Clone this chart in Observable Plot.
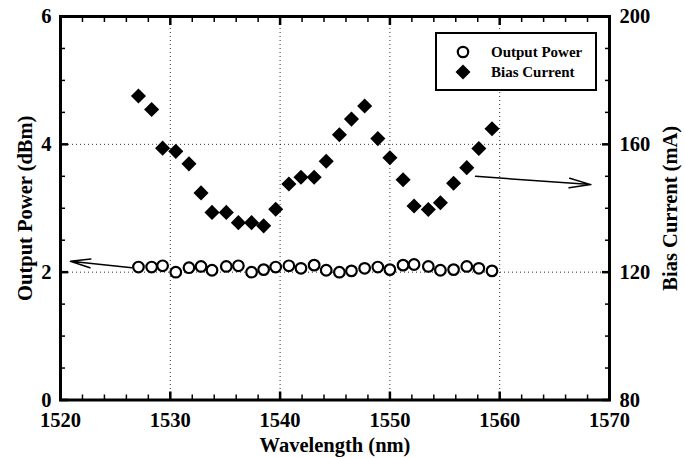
<!DOCTYPE html>
<html>
<head>
<meta charset="utf-8">
<script src="https://cdn.jsdelivr.net/npm/d3@7"></script>
<script src="https://cdn.jsdelivr.net/npm/@observablehq/plot@0.6"></script>
<style>
  html, body { margin: 0; padding: 0; background: #fff; }
  #wrap { position: relative; width: 685px; height: 458px; font-family: "Liberation Serif", "Times New Roman", serif; }
  #wrap svg, #wrap svg text { font-family: "Liberation Serif", "Times New Roman", serif !important; }
  .legend { position: absolute; left: 435px; top: 32px; width: 158px; height: 55px; border: 2px solid #000; background: #fff; }
  .legend .sym { position: absolute; }
  .legend .lab { position: absolute; font-weight: bold; font-size: 15px; line-height: 16px; white-space: nowrap; }
</style>
</head>
<body>
<div id="wrap"></div>
<script>
// ---- data ----
const wavelength = [1527.1, 1528.3, 1529.3, 1530.5, 1531.7, 1532.8, 1533.8, 1535.1, 1536.2, 1537.4,
  1538.5, 1539.6, 1540.8, 1541.9, 1543.1, 1544.2, 1545.4, 1546.5, 1547.7, 1548.9,
  1550.0, 1551.2, 1552.2, 1553.5, 1554.6, 1555.8, 1557.0, 1558.1, 1559.3];
const outputPower = [2.08, 2.08, 2.10, 2.00, 2.07, 2.09, 2.03, 2.09, 2.10, 2.00,
  2.04, 2.08, 2.10, 2.06, 2.11, 2.03, 2.00, 2.02, 2.06, 2.08,
  2.04, 2.11, 2.12, 2.09, 2.03, 2.04, 2.09, 2.06, 2.02];
const biasCurrent = [175.1, 170.9, 158.8, 157.8, 153.9, 144.8, 138.7, 138.7, 135.5, 135.5,
  134.5, 139.7, 147.6, 149.7, 149.7, 154.7, 163.0, 167.9, 172.0, 161.8,
  155.8, 148.9, 140.7, 139.6, 141.7, 147.8, 152.7, 158.7, 164.9];

const xTicks = [1520, 1530, 1540, 1550, 1560, 1570];
const xGrid = [1530, 1540, 1550, 1560];
const yLeftTicks = [0, 2, 4, 6];
const yGrid = [2, 4];
const yRightTickLabels = [80, 120, 160, 200];
const biasDomain = [80, 200];
const powerDomain = [0, 6];

// annotation arrows (x in nm, y in dBm units)
const arrows = [
  {x1: 1526.5, y1: 2.07, x2: 1520.9, y2: 2.17},
  {x1: 1557.8, y1: 3.50, x2: 1568.3, y2: 3.37}
];

// map mA onto the left (dBm) axis
const toLeft = d3.scaleLinear().domain(biasDomain).range(powerDomain);

const power = wavelength.map((w, i) => ({w, v: outputPower[i]}));
const bias = wavelength.map((w, i) => ({w, v: toLeft(biasCurrent[i])}));

const xMinor = d3.range(1520, 1571, 2).filter(v => !xTicks.includes(v));
const yMinor = d3.range(0, 6.01, 0.5).filter(v => !yLeftTicks.includes(v));

const font = "Liberation Serif, Times New Roman, serif";

const chart = Plot.plot({
  width: 685,
  height: 458,
  marginLeft: 60,
  marginRight: 76,
  marginTop: 16,
  marginBottom: 58.5,
  style: {fontFamily: font, background: "#fff", color: "#000"},
  x: {domain: [1520, 1570]},
  y: {domain: powerDomain},
  marks: [
    Plot.gridX(xGrid, {stroke: "#000", strokeOpacity: 0.8, strokeDasharray: "1,3", strokeWidth: 1}),
    Plot.gridY(yGrid, {stroke: "#000", strokeOpacity: 0.8, strokeDasharray: "1,3", strokeWidth: 1}),
    // major / minor ticks (inward), all four sides
    Plot.axisX(xTicks, {anchor: "bottom", tickSize: -8, tickFormat: () => "", strokeWidth: 2.5, label: null}),
    Plot.axisX(xTicks, {anchor: "top", tickSize: -8, tickFormat: () => "", strokeWidth: 2.5, label: null}),
    Plot.axisX(xMinor, {anchor: "bottom", tickSize: -5, tickFormat: () => "", strokeWidth: 1.5, label: null}),
    Plot.axisX(xMinor, {anchor: "top", tickSize: -5, tickFormat: () => "", strokeWidth: 1.5, label: null}),
    Plot.axisY(yLeftTicks, {anchor: "left", tickSize: -8, tickFormat: () => "", strokeWidth: 2.5, label: null}),
    Plot.axisY(yLeftTicks, {anchor: "right", tickSize: -8, tickFormat: () => "", strokeWidth: 2.5, label: null}),
    Plot.axisY(yMinor, {anchor: "left", tickSize: -5, tickFormat: () => "", strokeWidth: 1.5, label: null}),
    Plot.axisY(yMinor, {anchor: "right", tickSize: -5, tickFormat: () => "", strokeWidth: 1.5, label: null}),
    // tick labels + titles
    Plot.axisX(xTicks, {anchor: "bottom", tickSize: 0, tickPadding: 12, fontSize: 18, tickFormat: d => String(d),
      label: "Wavelength (nm)", labelAnchor: "center", labelArrow: "none", labelOffset: 52}),
    Plot.axisY(yLeftTicks, {anchor: "left", tickSize: 0, tickPadding: 9, fontSize: 18, tickFormat: d => String(d),
      label: "Output Power (dBm)", labelAnchor: "center", labelArrow: "none", labelOffset: 43}),
    Plot.axisY(yLeftTicks, {anchor: "right", tickSize: 0, tickPadding: 10, fontSize: 18,
      tickFormat: d => String(yRightTickLabels[yLeftTicks.indexOf(d)]),
      label: "Bias Current (mA)", labelAnchor: "center", labelArrow: "none", labelOffset: 67}),
    Plot.frame({stroke: "#000", strokeWidth: 3}),
    Plot.arrow(arrows, {x1: "x1", y1: "y1", x2: "x2", y2: "y2", stroke: "#000", strokeWidth: 1.5, headLength: 22, headAngle: 25, bend: 0}),
    Plot.dot(power, {x: "w", y: "v", r: 5.3, fill: "#fff", stroke: "#000", strokeWidth: 2.2}),
    Plot.dot(bias, {x: "w", y: "v", r: 6.8, symbol: "diamond2", fill: "#000", stroke: "none"})
  ]
});

const wrap = document.getElementById("wrap");
wrap.appendChild(chart);

// axis titles: bold
chart.querySelectorAll("g[aria-label$='label'] text").forEach(t => {
  t.setAttribute("font-weight", "bold");
  t.setAttribute("font-size", "20.5");
});

// legend
const legendItems = [
  {label: "Output Power", kind: "circle"},
  {label: "Bias Current", kind: "diamond"}
];
const legend = document.createElement("div");
legend.className = "legend";
legendItems.forEach((it, i) => {
  const cy = 18 + i * 20;
  const sym = document.createElement("div");
  sym.className = "sym";
  sym.style.left = (26 - 8) + "px";
  sym.style.top = (cy - 8) + "px";
  sym.innerHTML = it.kind === "circle"
    ? `<svg width="16" height="16"><circle cx="8" cy="8" r="5.2" fill="#fff" stroke="#000" stroke-width="2.2"/></svg>`
    : `<svg width="16" height="16"><path d="M8,0.5L15.5,8L8,15.5L0.5,8Z" fill="#000"/></svg>`;
  legend.appendChild(sym);
  const lab = document.createElement("div");
  lab.className = "lab";
  lab.style.left = "54px";
  lab.style.top = (cy - 8) + "px";
  lab.textContent = it.label;
  legend.appendChild(lab);
});
wrap.appendChild(legend);
</script>
</body>
</html>
